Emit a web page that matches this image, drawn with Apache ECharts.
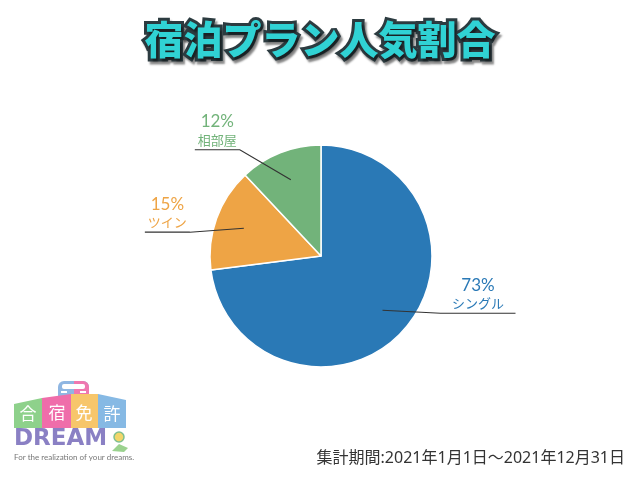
<!DOCTYPE html>
<html><head><meta charset="utf-8">
<script src="https://cdn.jsdelivr.net/npm/echarts@6/dist/echarts.min.js"></script>
<style>html,body{margin:0;padding:0;background:#fff}#c{width:640px;height:480px}</style>
</head><body><div id="c"></div>
<script>
const titleText = '宿泊プラン人気割合';
const categories = ['シングル', 'ツイン', '相部屋'];
const values = [73, 15, 12];
const colors = ['#2a79b6', '#eea445', '#72b37a'];
const periodText = '集計期間:2021年1月1日～2021年12月31日';
// label leader offsets relative to the leader start point: [elbowDx, elbowDy, endDx]
const leaderOffsets = [[58, 3, 133], [-54, 4, -99], [-51, -30, -96]];

const chart = echarts.init(document.getElementById('c'));
const font = '"Noto Sans CJK JP", "Noto Sans", sans-serif';
const data = categories.map((n, i) => ({ name: n, value: values[i], itemStyle: { color: colors[i] } }));

chart.setOption({
  animation: false,
  backgroundColor: '#fff',
  title: {
    text: titleText, left: 'center', top: 15,
    textStyle: {
      fontFamily: font, fontSize: 39, fontWeight: 900, color: '#30d2d4',
      textBorderColor: '#2c3b40', textBorderWidth: 6,
      textShadowColor: 'rgba(0,0,0,0.45)', textShadowOffsetX: 2, textShadowOffsetY: 3, textShadowBlur: 2
    }
  },
  series: [
    {
      type: 'pie', center: [321, 256], radius: 111, startAngle: 90, clockwise: true, z: 2,
      silent: true, label: { show: false }, labelLine: { show: false },
      itemStyle: { borderColor: '#fff', borderWidth: 1.5 },
      data: data
    },
    {
      type: 'pie', center: [321, 256], radius: 82, startAngle: 90, clockwise: true, z: 5,
      silent: true, avoidLabelOverlap: false,
      itemStyle: { color: 'rgba(0,0,0,0)', borderWidth: 0 },
      data: categories.map((n, i) => ({
        name: n, value: values[i],
        itemStyle: { color: 'rgba(0,0,0,0)' },
        label: { rich: { p: { color: colors[i] }, n: { color: colors[i] } } }
      })),
      label: {
        show: true, position: 'outside', formatter: '{p|{c}%}\n{n|{b}}',
        rich: {
          p: { fontFamily: 'Lato, "Noto Sans", sans-serif', fontSize: 17, lineHeight: 20, align: 'center' },
          n: { fontFamily: font, fontSize: 13, lineHeight: 16, align: 'center' }
        }
      },
      labelLine: { show: true, length: 10, length2: 10, lineStyle: { color: '#333', width: 1.2 } },
      labelLayout: function (params) {
        const pts = params.labelLinePoints;
        if (!pts) return {};
        const s = pts[0];
        const o = leaderOffsets[params.dataIndex];
        const elbow = [s[0] + o[0], s[1] + o[1]];
        const end = [s[0] + o[2], elbow[1]];
        return {
          x: (elbow[0] + end[0]) / 2, y: elbow[1] - 2,
          align: 'center', verticalAlign: 'bottom',
          labelLinePoints: [s, elbow, end]
        };
      }
    }
  ],
  graphic: [
    { type: 'text', right: 15, top: 450, style: { text: periodText, fontFamily: '"Noto Sans", "Noto Sans CJK JP", sans-serif', fontSize: 16, fill: '#333' } },
    {
      type: 'group', left: 14, top: 381,
      children: [
        // car
        { type: 'rect', shape: { x: 44, y: 3, width: 31, height: 18, r: [6, 6, 2, 2] }, style: { fill: '#8fb6e2' } },
        { type: 'rect', shape: { x: 60, y: 3, width: 15, height: 18, r: [0, 6, 2, 0] }, style: { fill: '#ef78b0' } },
        { type: 'rect', shape: { x: 48, y: 6, width: 23, height: 5, r: 2 }, style: { fill: '#fff' } },
        { type: 'rect', shape: { x: 47, y: 13, width: 6, height: 2 }, style: { fill: '#fff' } },
        { type: 'rect', shape: { x: 66, y: 13, width: 6, height: 2 }, style: { fill: '#fff' } },
        { type: 'polygon', shape: { points: [[0, 26], [28, 20], [28, 50], [0, 50]] }, style: { fill: '#8ed18b' } },
        { type: 'polygon', shape: { points: [[28, 20], [57, 16], [57, 50], [28, 50]] }, style: { fill: '#ef6daa' } },
        { type: 'polygon', shape: { points: [[57, 16], [84, 16], [84, 50], [57, 50]] }, style: { fill: '#f7c66b' } },
        { type: 'polygon', shape: { points: [[84, 16], [112, 22], [112, 50], [84, 50]] }, style: { fill: '#86b9e4' } },
        { type: 'text', x: 14, y: 36, style: { text: '合', fontFamily: font, fontSize: 17, fill: '#fff', align: 'center', verticalAlign: 'middle' } },
        { type: 'text', x: 43, y: 35, style: { text: '宿', fontFamily: font, fontSize: 17, fill: '#fff', align: 'center', verticalAlign: 'middle' } },
        { type: 'text', x: 70, y: 35, style: { text: '免', fontFamily: font, fontSize: 17, fill: '#fff', align: 'center', verticalAlign: 'middle' } },
        { type: 'text', x: 98, y: 36, style: { text: '許', fontFamily: font, fontSize: 17, fill: '#fff', align: 'center', verticalAlign: 'middle' } },
        { type: 'text', x: 0, y: 50, style: { text: 'DREAM', fontFamily: '"DejaVu Sans", sans-serif', fontWeight: 'bold', fontSize: 23, fill: '#8a80c4' } },
        { type: 'circle', shape: { cx: 105, cy: 59, r: 5 }, style: { fill: '#f2d66a', stroke: '#7fbf8f', lineWidth: 1.5 } },
        { type: 'polygon', shape: { points: [[98, 73], [105, 66], [114, 70], [110, 74]] }, style: { fill: '#9bd28f' } },
        { type: 'text', x: 0, y: 75, style: { text: 'For the realization of your dreams.', fontFamily: 'Lato, sans-serif', fontSize: 8, fill: '#777' } }
      ]
    }
  ]
});
</script></body></html>
